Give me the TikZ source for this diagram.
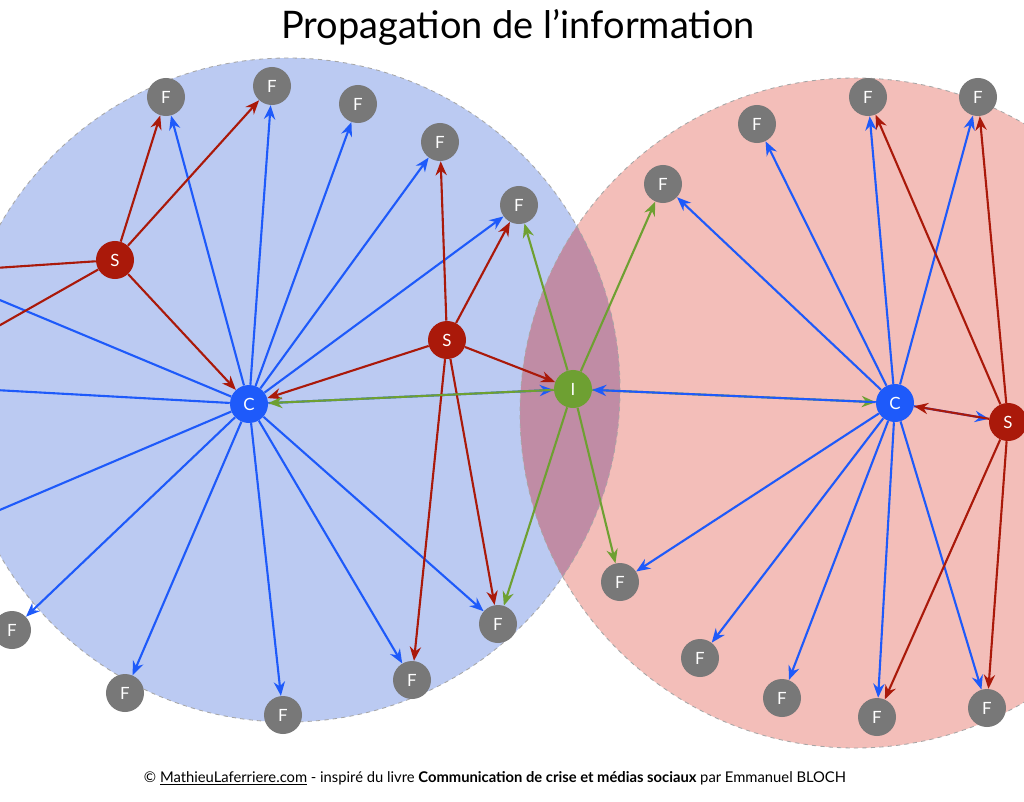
\documentclass[tikz,border=0pt]{standalone}
\usepackage{fontspec}
\setmainfont{Lato}
\usepackage{tikz}
\usetikzlibrary{arrows.meta,positioning}
\definecolor{fgray}{RGB}{120,120,120}
\definecolor{sred}{RGB}{170,25,10}
\definecolor{cblue}{RGB}{30,90,250}
\definecolor{igreen}{RGB}{110,160,50}
\definecolor{zoneblue}{RGB}{187,202,242}
\definecolor{zonered}{RGB}{243,190,185}
\definecolor{zonemix}{RGB}{192,140,165}
\tikzset{
	dot/.style={circle,minimum size=0.95cm,inner sep=0pt,text=white,font=\large},
	fnode/.style={dot,fill=fgray},
	snode/.style={dot,fill=sred},
	cnode/.style={dot,fill=cblue},
	inode/.style={dot,fill=igreen},
	bl/.style={draw=cblue,line width=1.5pt,-{Stealth[length=10pt,width=8pt]}},
	rd/.style={draw=sred,line width=1.5pt,-{Stealth[length=10pt,width=8pt]}},
	gr/.style={draw=igreen,line width=1.5pt,-{Stealth[length=10pt,width=8pt]}},
	bln/.style={draw=cblue,line width=1.5pt},
	rdn/.style={draw=sred,line width=1.5pt}
}
\begin{document}
\begin{tikzpicture}[x=0.025cm,y=-0.025cm]
	\useasboundingbox (0,0) rectangle (1024,801);
	\clip (0,0) rectangle (1024,801);
	\fill[white] (0,0) rectangle (1024,801);

	% zones
	\fill[zoneblue] (288,390) circle (332);
	\fill[zonered] (855,413) circle (335);
	\begin{scope}
		\clip (288,390) circle (332);
		\fill[zonemix] (855,413) circle (335);
	\end{scope}
	\draw[gray!70,dashed,line width=0.6pt] (288,390) circle (332) (855,413) circle (335);

	\node at (518,27) {\fontsize{27}{30}\selectfont Propagation de l’information};
	\node at (495,778) {\fontsize{10.5}{12}\selectfont © \underline{MathieuLaferriere.com} - inspiré du livre \textbf{Communication de crise et médias sociaux} par Emmanuel BLOCH};

	\draw
		node [fnode] (fa) at (166,97)  {F}
		node [fnode] (fb) at (272,86)  {F}
		node [fnode] (fc) at (358,104) {F}
		node [fnode] (fd) at (440,142) {F}
		node [fnode] (fe) at (519,205) {F}
		node [fnode] (ff) at (12,630)  {F}
		node [fnode] (fg) at (125,693) {F}
		node [fnode] (fh) at (283,715) {F}
		node [fnode] (fi) at (412,680) {F}
		node [fnode] (fj) at (498,624) {F}
		node [snode] (s1) at (115,260) {S}
		node [snode] (s2) at (447,340) {S}
		node [cnode] (c1) at (249,404) {C}
		node [inode] (i)  at (573,389) {I}
		node [fnode] (fk) at (663,184) {F}
		node [fnode] (fl) at (757,124) {F}
		node [fnode] (fm) at (868,97)  {F}
		node [fnode] (fn) at (978,97)  {F}
		node [fnode] (fo) at (620,582) {F}
		node [fnode] (fp) at (700,658) {F}
		node [fnode] (fq) at (782,698) {F}
		node [fnode] (fr) at (877,717) {F}
		node [fnode] (fs) at (987,708) {F}
		node [cnode] (c2) at (895,403) {C}
		node [snode] (s3) at (1008,422) {S}
		coordinate (l1) at (-5,298)
		coordinate (l2) at (-5,390)
		coordinate (l3) at (-5,512)
		coordinate (l4) at (-5,268)
		coordinate (l5) at (-5,328)
	;

	% left zone
	\draw
		(c1) edge[bln] (l1) (c1) edge[bln] (l2) (c1) edge[bln] (l3)
		(c1) edge[bl] (fa) (c1) edge[bl] (fb) (c1) edge[bl] (fc) (c1) edge[bl] (fd)
		(c1) edge[bl] (fe) (c1) edge[bl] (i)  (c1) edge[bl] (ff) (c1) edge[bl] (fg)
		(c1) edge[bl] (fh) (c1) edge[bl] (fi) (c1) edge[bl] (fj)
		(s1) edge[rdn] (l4) (s1) edge[rdn] (l5)
		(s1) edge[rd] (fa) (s1) edge[rd] (fb) (s1) edge[rd] (c1)
		(s2) edge[rd] (fd) (s2) edge[rd] (fe) (s2) edge[rd] (c1)
		(s2) edge[rd] (i)  (s2) edge[rd] (fi) (s2) edge[rd] (fj)
	;
	% information
	\draw
		(i) edge[gr] (c1) (i) edge[gr] (fe) (i) edge[gr] (fk)
		(i) edge[gr] (fj) (i) edge[gr] (fo) (i) edge[gr] (c2)
	;
	% right zone
	\draw
		(c2) edge[bl] (i)  (c2) edge[bl] (fk) (c2) edge[bl] (fl) (c2) edge[bl] (fm)
		(c2) edge[bl] (fn) (c2) edge[bl] (fo) (c2) edge[bl] (fp) (c2) edge[bl] (fq)
		(c2) edge[bl] (fr) (c2) edge[bl] (fs) (c2) edge[bl] (s3)
		(s3) edge[rd] (c2) (s3) edge[rd] (fm) (s3) edge[rd] (fn)
		(s3) edge[rd] (fr) (s3) edge[rd] (fs)
	;
\end{tikzpicture}
\end{document}
